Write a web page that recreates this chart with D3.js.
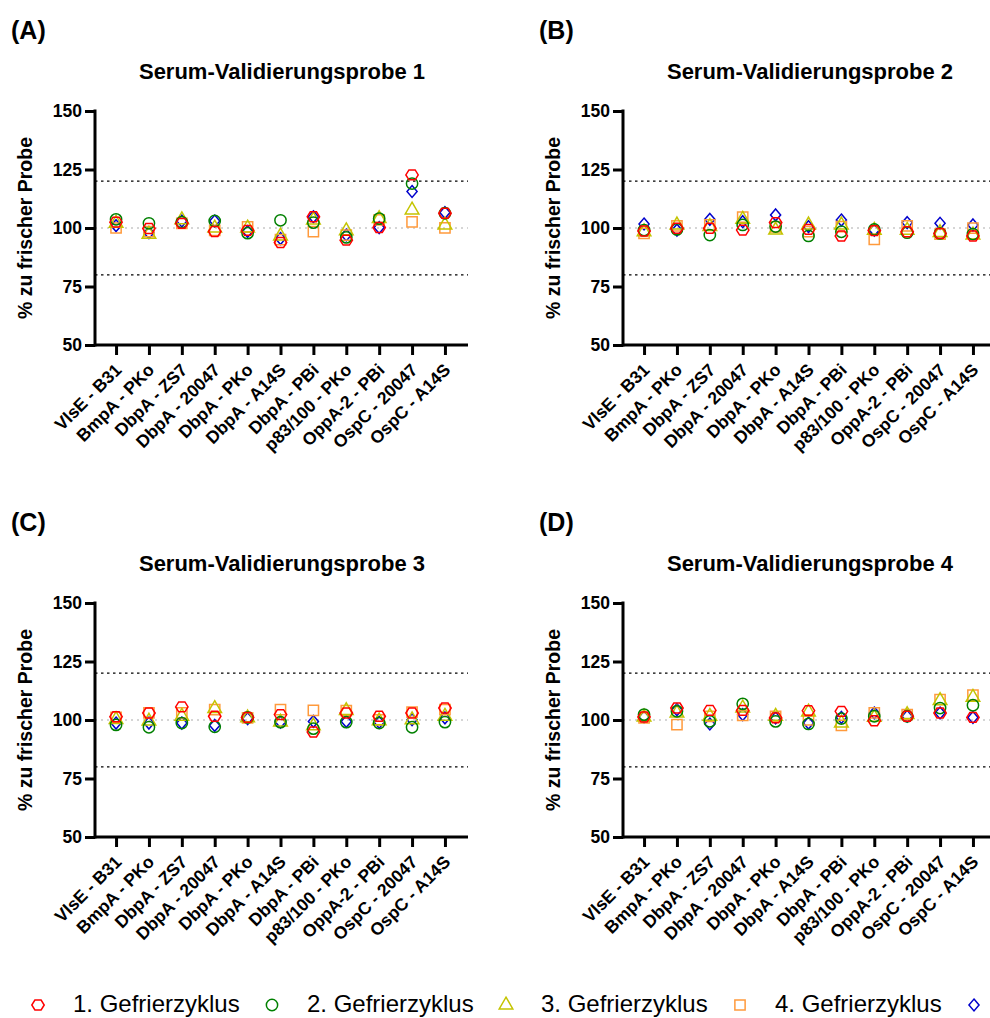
<!DOCTYPE html>
<html>
<head>
<meta charset="utf-8">
<script src="https://cdn.jsdelivr.net/npm/d3@7"></script>
<style>
  body { margin: 0; background: #fff; }
  svg { display: block; }
  text { font-family: "Liberation Sans", Arial, Helvetica, sans-serif; }
</style>
</head>
<body>
<svg id="chart" width="990" height="1018"></svg>
<script>
// ---------- data ----------
const categories = ["VlsE - B31", "BmpA - PKo", "DbpA - ZS7", "DbpA - 20047", "DbpA - PKo",
  "DbpA - A14S", "DbpA - PBi", "p83/100 - PKo", "OppA-2 - PBi", "OspC - 20047", "OspC - A14S"];

// the 5th series label lies beyond the right edge in the original figure (only its marker is visible)
const seriesNames = ["1. Gefrierzyklus", "2. Gefrierzyklus", "3. Gefrierzyklus", "4. Gefrierzyklus", ""];

const yTicks = [50, 75, 100, 125, 150];
const limits = [80, 120];

const panelTitles = ["Serum-Validierungsprobe 1", "Serum-Validierungsprobe 2",
  "Serum-Validierungsprobe 3", "Serum-Validierungsprobe 4"];
const panelLabels = ["(A)", "(B)", "(C)", "(D)"];

// rows: Gefrierzyklus 1..5 ; columns: categories
const probe1 = [
  [102.5, 99.8, 102.0, 98.5, 99.0, 93.8, 104.8, 94.8, 100.2, 122.7, 106.3],
  [103.7, 102.0, 102.5, 103.0, 97.8, 103.3, 102.3, 96.0, 104.0, 119.0, 106.3],
  [102.0, 97.3, 103.5, 100.0, 100.0, 96.6, 103.4, 98.8, 104.0, 107.7, 101.3],
  [100.0, 98.5, 102.0, 99.0, 100.5, 95.0, 98.5, 97.0, 103.5, 102.6, 100.1],
  [101.0, 98.0, 103.0, 103.0, 98.5, 95.5, 104.8, 97.0, 100.2, 115.6, 106.6]
];
const probe2 = [
  [98.7, 99.9, 99.9, 99.1, 102.3, 99.4, 96.6, 98.9, 98.4, 97.7, 96.6],
  [99.1, 99.4, 97.0, 101.3, 100.6, 96.6, 98.4, 99.4, 98.0, 97.7, 97.4],
  [98.4, 101.3, 100.6, 103.7, 99.1, 101.3, 101.3, 99.0, 99.0, 98.0, 97.0],
  [97.7, 100.9, 101.3, 104.6, 100.5, 98.4, 100.6, 95.1, 100.9, 97.4, 99.9],
  [101.7, 99.1, 103.7, 102.7, 105.6, 100.6, 103.4, 99.1, 102.3, 102.0, 101.3]
];
const probe3 = [
  [101.4, 103.0, 105.6, 101.6, 101.1, 102.3, 94.9, 103.0, 101.6, 103.0, 105.1],
  [97.9, 96.9, 98.7, 97.1, 101.1, 99.1, 96.3, 99.1, 98.7, 96.9, 99.1],
  [100.2, 99.5, 101.6, 104.9, 100.9, 99.1, 97.5, 104.0, 99.6, 100.1, 101.6],
  [101.1, 103.0, 103.0, 104.4, 100.9, 104.4, 104.1, 104.0, 100.1, 103.4, 104.4],
  [98.7, 98.7, 98.7, 97.7, 100.6, 99.1, 99.4, 99.4, 99.0, 100.1, 100.9]
];
const probe4 = [
  [101.3, 105.1, 104.1, 104.1, 100.9, 104.0, 103.7, 99.7, 101.6, 103.0, 101.1],
  [102.3, 103.7, 99.4, 106.9, 99.4, 98.3, 100.6, 101.6, 101.6, 105.1, 106.3],
  [101.3, 103.0, 101.6, 105.1, 101.6, 103.4, 98.7, 101.1, 102.3, 108.3, 109.7],
  [100.9, 98.0, 101.6, 102.0, 101.6, 100.1, 97.7, 103.0, 102.3, 108.7, 110.6],
  [101.3, 104.4, 98.3, 102.3, 100.9, 98.7, 101.1, 103.0, 101.6, 103.0, 101.1]
];
const panelData = [probe1, probe2, probe3, probe4];

// ---------- styles ----------
const colors = ["#ff0000", "#008000", "#c4c400", "#ff9a3c", "#0000cc"];
const hexagon = {
  draw(ctx, size) {
    const r = Math.sqrt(size / 2.6);
    for (let i = 0; i < 6; i++) {
      const a = Math.PI / 3 * i;
      const x = r * Math.cos(a), y = r * Math.sin(a) * 0.92;
      if (i === 0) ctx.moveTo(x, y); else ctx.lineTo(x, y);
    }
    ctx.closePath();
  }
};
const diamond = {
  draw(ctx, size) {
    const h = Math.sqrt(size / 1.7);
    const w = h * 0.85;
    ctx.moveTo(0, -h); ctx.lineTo(w, 0); ctx.lineTo(0, h); ctx.lineTo(-w, 0); ctx.closePath();
  }
};
const symbols = [hexagon, d3.symbolCircle, d3.symbolTriangle, d3.symbolSquare, diamond];
const symSizes = [100, 100, 80, 105, 60];

const svg = d3.select("#chart");
const offsets = [[0, 0], [528, 0], [0, 492], [528, 492]];

panelData.forEach((data, pi) => {
  const [dx, dy] = offsets[pi];
  const g = svg.append("g").attr("transform", `translate(${dx},${dy})`);

  const x = d3.scalePoint().domain(categories).range([95, 466]).padding(0.64);
  const y = d3.scaleLinear().domain([50, 150]).range([345, 111]);

  // panel label + title
  g.append("text").attr("x", 11).attr("y", 39).attr("font-size", 25).attr("font-weight", "bold")
    .text(panelLabels[pi]);
  g.append("text").attr("x", 282).attr("y", 79).attr("text-anchor", "middle")
    .attr("font-size", 22).attr("font-weight", "bold").text(panelTitles[pi]);

  // reference lines
  g.append("line").attr("x1", 95).attr("x2", 468).attr("y1", y(100)).attr("y2", y(100))
    .attr("stroke", "#c8c8c8").attr("stroke-width", 1.5).attr("stroke-dasharray", "2,4");
  limits.forEach(v => {
    g.append("line").attr("x1", 95).attr("x2", 468).attr("y1", y(v)).attr("y2", y(v))
      .attr("stroke", "#000").attr("stroke-width", 1.3).attr("stroke-dasharray", "2.5,3.5");
  });

  // axes
  const yAxis = g.append("g").attr("transform", "translate(95,0)")
    .call(d3.axisLeft(y).tickValues(yTicks).tickSize(10).tickSizeOuter(0).tickPadding(3));
  yAxis.select(".domain").attr("stroke-width", 3).attr("d", `M0,${y(150)-1.5}V${y(50)+1.5}`);
  yAxis.selectAll(".tick line").attr("stroke-width", 3);
  yAxis.selectAll(".tick text").attr("font-size", 17.5).attr("font-weight", "bold")
    .attr("font-family", "Liberation Sans, Arial, sans-serif").attr("fill", "#000");

  const xAxis = g.append("g").attr("transform", "translate(0,345)")
    .call(d3.axisBottom(x).tickSize(10).tickSizeOuter(0));
  xAxis.select(".domain").attr("stroke-width", 3).attr("d", "M95,0H468");
  xAxis.selectAll(".tick line").attr("stroke-width", 3);
  xAxis.selectAll(".tick text")
    .attr("font-size", 17.5).attr("font-weight", "bold")
    .attr("font-family", "Liberation Sans, Arial, sans-serif").attr("fill", "#000")
    .attr("text-anchor", "end").attr("y", 0).attr("dy", "0")
    .attr("transform", "translate(6,26) rotate(-45)");

  // y axis title
  g.append("text").attr("transform", `translate(25,${y(100)}) rotate(-90)`)
    .attr("text-anchor", "middle").attr("dy", "0.35em")
    .attr("font-size", 19.5).attr("font-weight", "bold").text("% zu frischer Probe");

  // points: draw series 5 first, series 1 on top
  for (let s = 4; s >= 0; s--) {
    g.append("g").selectAll("path").data(data[s]).join("path")
      .attr("transform", (d, i) => `translate(${x(categories[i])},${y(d)})`)
      .attr("d", d3.symbol().type(symbols[s]).size(symSizes[s]))
      .attr("fill", "none").attr("stroke", colors[s]).attr("stroke-width", 1.5);
  }
});

// legend
const legend = svg.append("g");
seriesNames.forEach((name, i) => {
  const lx = 38 + i * 234;
  legend.append("path").attr("transform", `translate(${lx},1005)`)
    .attr("d", d3.symbol().type(symbols[i]).size(symSizes[i]))
    .attr("fill", "none").attr("stroke", colors[i]).attr("stroke-width", 1.5);
  if (name) {
    legend.append("text").attr("x", lx + 35).attr("y", 1012).attr("font-size", 24)
      .attr("fill", "#000").text(name);
  }
});
</script>
</body>
</html>
